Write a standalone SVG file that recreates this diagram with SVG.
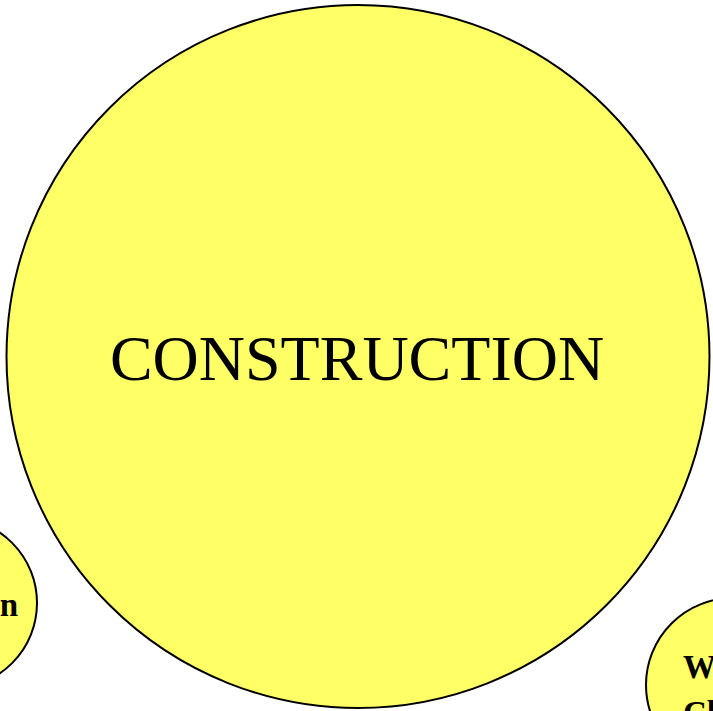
<svg xmlns="http://www.w3.org/2000/svg" width="713" height="711" viewBox="0 0 713 711">
<style>
.node{fill:#ffff66;stroke:#000;stroke-width:2}
.big{font-family:"Liberation Serif",serif;font-size:64px;fill:#000}
.small{font-family:"Liberation Serif",serif;font-size:33px;font-weight:bold;fill:#000}
</style>
<rect width="713" height="711" fill="#fff"/>
<g id="connectors"></g>
<g id="construction">
<circle class="node" cx="358" cy="356.5" r="351.5"/>
<text class="big" x="357" y="380" text-anchor="middle">CONSTRUCTION</text>
</g>
<g id="node-left">
<circle class="node" cx="-48" cy="603" r="85"/>
<text class="small" x="18" y="616" text-anchor="end">n</text>
</g>
<g id="node-right">
<circle class="node" cx="733" cy="685" r="87"/>
<text class="small" x="683" y="678">W</text>
<text class="small" x="683" y="724">Cl</text>
</g>
</svg>
